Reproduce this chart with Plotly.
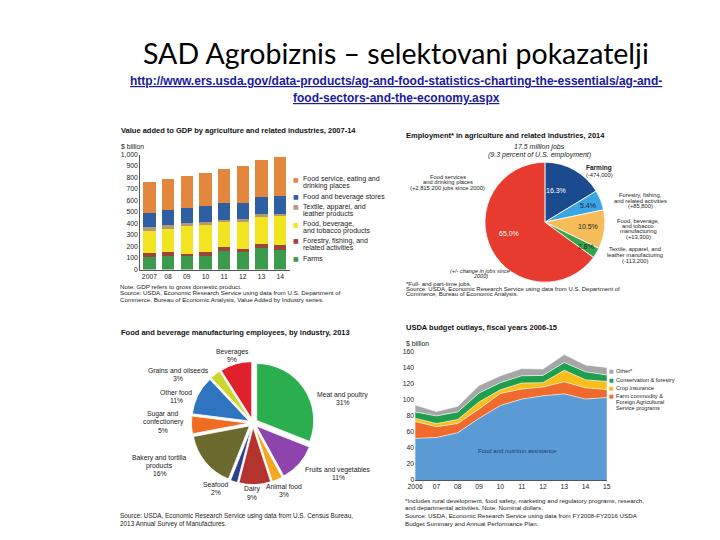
import plotly.graph_objects as go

# The page body adds an 8 px margin, so the figure is sized to fill the rest of the window
OFF = 8
W, H = 720 - OFF, 540 - OFF
FONT = "Liberation Sans, Arial, sans-serif"


def X(px):
    return (px - OFF) / W


def Y(py):
    return 1 - (py - OFF) / H


# ---------------- Data ----------------
# Chart 1: Value added to GDP ($ billion)
years1 = ["2007", "08", "09", "10", "11", "12", "13", "14"]
farms = [111, 120, 114, 120, 163, 149, 191, 171]
forestry = [29, 34, 23, 34, 31, 34, 35, 40]
food_bev_tob = [197, 200, 246, 237, 217, 234, 237, 252]
textile = [32, 32, 23, 26, 23, 20, 17, 23]
food_stores = [122, 131, 131, 132, 143, 143, 151, 151]
food_service = [269, 269, 277, 291, 294, 317, 326, 346]
names1 = ["Farms", "Forestry, fishing, and<br>related activities",
          "Food, beverage,<br>and tobacco products",
          "Textile, apparel, and<br>leather products",
          "Food and beverage stores",
          "Food service, eating and<br>drinking places"]
colors1 = ["#3c9a4c", "#9c4439", "#f2e421", "#b59a7a", "#2f5fa3", "#e3873f"]
yticks1 = [0, 100, 200, 300, 400, 500, 600, 700, 800, 900, 1000]
yticktext1 = ["0", "100", "200", "300", "400", "500", "600", "700", "800", "900", "1,000"]

# Chart 2: Employment shares 2014 (%)
emp_labels = ["Farming", "Forestry, fishing, and related activities",
              "Food, beverage, and tobacco manufacturing",
              "Textile, apparel, and leather manufacturing",
              "Food services and drinking places"]
emp_share = [16.3, 5.4, 10.5, 2.8, 65.0]
emp_colors = ["#1b4a8f", "#3aa6e6", "#f6bc5a", "#36a64a", "#e63b2e"]

# Chart 3: Food and beverage manufacturing employees 2013 (%)
mfg_labels = ["Meat and poultry", "Fruits and vegetables", "Animal food", "Dairy",
              "Seafood", "Bakery and tortilla<br>products", "Sugar and<br>confectionery",
              "Other food", "Grains and oilseeds", "Beverages"]
mfg_share = [31, 11, 3, 9, 2, 16, 5, 11, 3, 9]
mfg_colors = ["#2aae4e", "#8e44ad", "#f5a623", "#b5332e", "#2d3e8c",
              "#6b6a2e", "#f06c22", "#2f74c0", "#ccd62c", "#e0202a"]

# Chart 4: USDA budget outlays ($ billion)
years4 = [2006, 2007, 2008, 2009, 2010, 2011, 2012, 2013, 2014, 2015]
xticktext4 = ["2006", "07", "08", "09", "10", "11", "12", "13", "14", "15"]
food_nutrition = [52, 53, 59, 77, 93, 101, 105, 107.5, 101, 103]
farm_commodity = [21, 13.5, 11.5, 11.5, 15, 12.5, 11, 15, 14, 10]
crop_insurance = [4, 4, 5, 9, 4.5, 7.5, 5.5, 14.5, 10, 10]
conservation = [8, 9.5, 9.5, 11, 9, 9, 9, 9.5, 10, 8]
other = [8.5, 5.5, 7, 9.5, 8.5, 9, 8, 10, 8.5, 9.5]
names4 = ["Food and nutrition assistance", "Farm commodity &<br>Foreign Agricultural<br>Service programs",
          "Crop insurance", "Conservation & forestry", "Other*"]
colors4 = ["#5b9bd5", "#ef6a2c", "#fbbd19", "#1d9f4e", "#a6a6a6"]

# ---------------- Figure ----------------
fig = go.Figure()

series1 = [farms, forestry, food_bev_tob, textile, food_stores, food_service]
for vals, name, col in zip(series1, names1, colors1):
    fig.add_trace(go.Bar(x=years1, y=vals, name=name, marker=dict(color=col, line=dict(width=0)),
                         xaxis="x", yaxis="y"))

fig.add_trace(go.Pie(values=emp_share, labels=emp_labels, sort=False, direction="clockwise",
                     rotation=0, marker=dict(colors=emp_colors, line=dict(color="white", width=0.8)),
                     textinfo="none", hoverinfo="label+percent",
                     domain=dict(x=[X(485), X(607)], y=[Y(282), Y(160)])))

fig.add_trace(go.Pie(values=mfg_share, labels=mfg_labels, sort=False, direction="clockwise",
                     rotation=0, pull=[0.08] * len(mfg_share),
                     marker=dict(colors=mfg_colors, line=dict(color="white", width=0.8)),
                     textinfo="none", hoverinfo="label+percent",
                     domain=dict(x=[X(186.4), X(311.6)], y=[Y(487.1), Y(361.9)])))

series4 = [food_nutrition, farm_commodity, crop_insurance, conservation, other]
for vals, name, col in zip(series4, names4, colors4):
    fig.add_trace(go.Scatter(x=years4, y=vals, name=name, stackgroup="one", mode="lines",
                             line=dict(color="white", width=0.6), fillcolor=col,
                             xaxis="x2", yaxis="y2"))

annotations = []


def add_lines(lines, x, y, dy, size, color="#222", anchor="left", bold=False, italic=False,
              family=FONT):
    for i, line in enumerate(lines):
        t = line
        if bold:
            t = "<b>" + t + "</b>"
        if italic:
            t = "<i>" + t + "</i>"
        annotations.append(dict(x=X(x), y=Y(y + i * dy), xref="paper", yref="paper", text=t,
                                showarrow=False, xanchor=anchor, yanchor="middle",
                                font=dict(size=size, color=color, family=family)))


def swatch(x, y, color, size=6):
    annotations.append(dict(x=X(x), y=Y(y), xref="paper", yref="paper", text="■",
                            showarrow=False, xanchor="center", yanchor="middle",
                            font=dict(size=size, color=color, family="DejaVu Sans")))


# Slide title and link
add_lines(["SAD Agrobiznis – selektovani pokazatelji"], 395, 50, 0, 28.5, color="#000",
          anchor="center", family="Lato, Liberation Sans, sans-serif")
add_lines(["<u>http://www.ers.usda.gov/data-products/ag-and-food-statistics-charting-the-essentials/ag-and-</u>",
           "<u>food-sectors-and-the-economy.aspx</u>"], 395, 78, 17, 12, color="#1a1a9c",
          anchor="center", bold=True)

# Chart 1 texts
add_lines(["Value added to GDP by agriculture and related industries, 2007-14"], 113, 128, 0, 7.5,
          color="#111", bold=True)
add_lines(["$ billion"], 113, 144, 0, 6.8)
leg1_y = [257.7, 240, 223, 205.5, 195, 177.5]
for name, col, ly in zip(names1, colors1, leg1_y):
    swatch(293, ly, col)
    add_lines(name.split("<br>"), 297.5, ly, 7, 7)
add_lines(["Note: GDP refers to gross domestic product.",
           "Source: USDA, Economic Research Service using data from U.S. Department of",
           "Commerce, Bureau of Economic Analysis, Value Added by Industry series."],
          112, 286, 6.5, 6.2)

# Chart 2 texts
add_lines(["Employment* in agriculture and related industries, 2014"], 403, 133, 0, 7.5,
          color="#111", bold=True)
add_lines(["17.5 million jobs", "(9.3 percent of U.S. employment)"], 540, 145, 8, 7,
          italic=True, anchor="center")
add_lines(["Food services", "and drinking places", "(+2,815,200 jobs since 2000)"], 447, 175, 5.6, 5.8,
          anchor="center")
add_lines(["Farming"], 601, 166.5, 0, 6.5, bold=True, anchor="center")
add_lines(["(-474,000)"], 601, 173, 0, 5.8, anchor="center")
add_lines(["Forestry, fishing,", "and related activities", "(+85,800)"], 643, 193.3, 5.8, 5.8,
          anchor="center")
add_lines(["Food, beverage,", "and tobacco", "manufacturing", "(+13,300)"], 641, 219.3, 5.5, 5.8,
          anchor="center")
add_lines(["Textile, apparel, and", "leather manufacturing", "(-113,200)"], 638, 248.3, 5.8, 5.8,
          anchor="center")
add_lines(["(+/- change in jobs since", "2000)"], 480, 270.7, 5.2, 5.5, italic=True, anchor="center")
add_lines(["*Full- and part-time jobs.",
           "Source: USDA, Economic Research Service using data from U.S. Department of",
           "Commerce, Bureau of Economic Analysis."], 403, 283.3, 5.2, 6)
pct2_pos = [(557, 189), (590, 204), (590, 225), (588, 246), (509, 232)]
pct2_col = ["white", "#222", "#222", "#222", "white"]
for v, (px, py), c in zip(emp_share, pct2_pos, pct2_col):
    add_lines([f"{v:.1f}%"], px, py, 0, 7, color=c, anchor="center")

# Chart 3 texts
add_lines(["Food and beverage manufacturing employees, by industry, 2013"], 113, 332.5, 0, 7.5,
          color="#111", bold=True)
lab3_pos = [(340.5, 395.7), (336, 471.7), (281, 489.3), (248.3, 491.7), (211.7, 487.3),
            (154, 460), (158, 415.7), (171, 393.3), (173, 371.7), (228, 352.3)]
for name, v, (px, py) in zip(mfg_labels, mfg_share, lab3_pos):
    add_lines(name.split("<br>") + [f"{v}%"], px, py, 8, 6.8, anchor="center")
add_lines(["Source: USDA, Economic Research Service using data from U.S. Census Bureau,",
           "2013 Annual Survey of Manufactures."], 112, 518.3, 8.3, 6.4)

# Chart 4 texts
add_lines(["USDA budget outlays, fiscal years 2006-15"], 403, 327.3, 0, 7.5, color="#111", bold=True)
add_lines(["$ billion"], 403, 344, 0, 6.8)
leg4_y = [None, 397.3, 389, 380.7, 371.7]
for name, col, ly in zip(names4, colors4, leg4_y):
    if ly is None:
        continue
    swatch(613.5, ly, col, size=5)
    add_lines(name.split("<br>"), 616.5, ly, 5.9, 5.6)
add_lines([names4[0]], 518, 452.7, 0, 6, color="#1d3b6e", anchor="center")
add_lines(["*Includes rural development, food safety, marketing and regulatory programs, research,",
           "and departmental activities. Note: Nominal dollars.",
           "Source: USDA, Economic Research Service using data from FY2008-FY2016 USDA",
           "Budget Summary and Annual Performance Plan."], 401.5, 502.7, 7.8, 6.2)

axis_font = dict(size=6.8, color="#222", family=FONT)
fig.update_layout(
    width=W, height=H, margin=dict(l=0, r=0, t=0, b=0),
    paper_bgcolor="white", plot_bgcolor="white", showlegend=False,
    barmode="stack", bargap=0.33,
    xaxis=dict(domain=[X(134.2), X(286.2)], type="category", range=[-0.5, 7.5],
               showline=True, linecolor="#555", linewidth=0.8, ticks="", tickfont=axis_font,
               showgrid=False, zeroline=False, anchor="y", fixedrange=True),
    yaxis=dict(domain=[Y(269), Y(152.5)], range=[0, 1000], tickvals=yticks1, ticktext=yticktext1,
               showline=True, linecolor="#555", linewidth=0.8, ticks="", tickfont=axis_font,
               showgrid=False, zeroline=False, anchor="x", fixedrange=True),
    xaxis2=dict(domain=[X(414), X(609)], range=[2006, 2015], tickvals=years4, ticktext=xticktext4,
                showline=True, linecolor="#555", linewidth=0.6, ticks="", tickfont=axis_font,
                showgrid=False, zeroline=False, anchor="y2", fixedrange=True),
    yaxis2=dict(domain=[Y(482.3), Y(352.3)], range=[0, 160], dtick=20, showline=False, ticks="",
                tickfont=axis_font, showgrid=False, zeroline=False, anchor="x2", fixedrange=True),
    annotations=annotations,
)

fig.write_html("out.html")
